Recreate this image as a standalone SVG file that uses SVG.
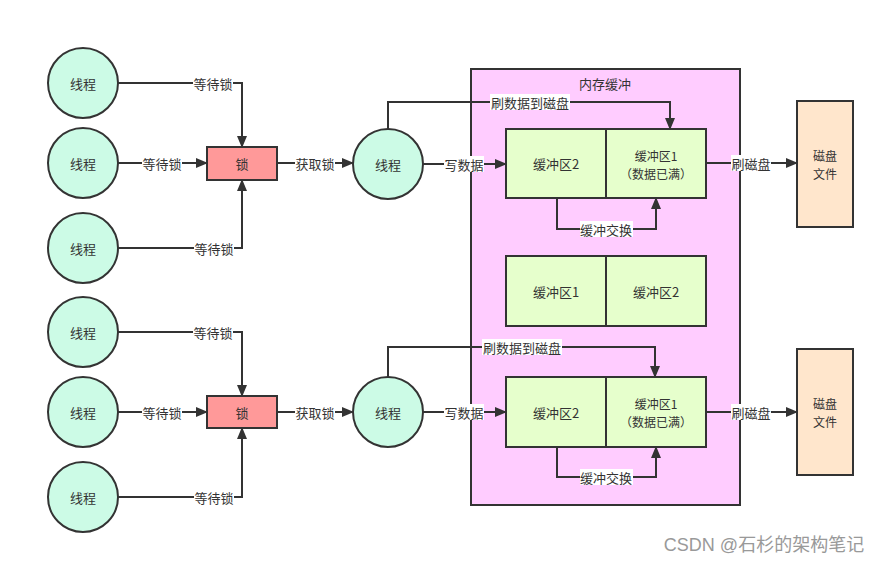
<svg xmlns="http://www.w3.org/2000/svg" width="885" height="563" viewBox="0 0 885 563">
<style>
text{font-family:"Noto Sans CJK SC","Liberation Sans",sans-serif;font-size:13px;fill:#333;text-anchor:middle;dominant-baseline:central}
.sm{font-size:12px}
.th{fill:#ccfbe6;stroke:#333;stroke-width:2}
.lk{fill:#ff9999;stroke:#333;stroke-width:2}
.bf{fill:#e6ffcc;stroke:#333;stroke-width:2}
.mem{fill:#ffccff;stroke:#333;stroke-width:2}
.dk{fill:#ffe6cc;stroke:#333;stroke-width:2}
.ln{fill:none;stroke:#333;stroke-width:2}
.lb{fill:#fff}
.wm{fill:#999;font-size:18px;font-family:"Liberation Sans","Noto Sans CJK SC",sans-serif}
</style>
<defs>
<marker id="ar" markerUnits="userSpaceOnUse" markerWidth="12" markerHeight="10" refX="11" refY="5" orient="auto">
<path d="M0,0 L12,5 L0,10 Z" fill="#333"/>
</marker>
</defs>
<rect width="885" height="563" fill="#fff"/>

<g id="memory"><rect class="mem" x="471" y="69" width="269" height="436"/><text x="605" y="83">内存缓冲</text></g>

<g id="t1"><circle class="th" cx="83" cy="83" r="35"/><text x="83" y="83">线程</text></g>
<g id="t2"><circle class="th" cx="83" cy="163" r="35"/><text x="83" y="163">线程</text></g>
<g id="t3"><circle class="th" cx="83" cy="248" r="35"/><text x="83" y="248">线程</text></g>
<g id="lock1"><rect class="lk" x="207" y="147" width="70" height="33"/><text x="242" y="163">锁</text></g>
<g id="w1"><circle class="th" cx="388" cy="164" r="35"/><text x="388" y="164">线程</text></g>
<g id="b1a"><rect class="bf" x="506" y="129" width="100" height="69"/><text x="556" y="163">缓冲区2</text></g>
<g id="b1b"><rect class="bf" x="606" y="129" width="100" height="69"/><text class="sm" x="656" y="155">缓冲区1</text><text class="sm" x="656" y="173">（数据已满）</text></g>
<g id="b2a"><rect class="bf" x="506" y="256" width="100" height="70"/><text x="556" y="291">缓冲区1</text></g>
<g id="b2b"><rect class="bf" x="606" y="256" width="100" height="70"/><text x="656" y="291">缓冲区2</text></g>
<g id="d1"><rect class="dk" x="797" y="101" width="56" height="126"/><text class="sm" x="825" y="155">磁盘</text><text class="sm" x="825" y="173">文件</text></g>

<g id="t4"><circle class="th" cx="83" cy="332" r="35"/><text x="83" y="332">线程</text></g>
<g id="t5"><circle class="th" cx="83" cy="412" r="35"/><text x="83" y="412">线程</text></g>
<g id="t6"><circle class="th" cx="83" cy="497" r="35"/><text x="83" y="497">线程</text></g>
<g id="lock2"><rect class="lk" x="207" y="396" width="70" height="32"/><text x="242" y="412">锁</text></g>
<g id="w2"><circle class="th" cx="388" cy="412" r="35"/><text x="388" y="412">线程</text></g>
<g id="b3a"><rect class="bf" x="506" y="377" width="100" height="70"/><text x="556" y="412">缓冲区2</text></g>
<g id="b3b"><rect class="bf" x="606" y="377" width="100" height="70"/><text class="sm" x="656" y="403">缓冲区1</text><text class="sm" x="656" y="421">（数据已满）</text></g>
<g id="d2"><rect class="dk" x="797" y="349" width="56" height="126"/><text class="sm" x="825" y="403">磁盘</text><text class="sm" x="825" y="421">文件</text></g>

<g id="connectors">
<path class="ln" d="M118,83 H242 V147" marker-end="url(#ar)"/>
<path class="ln" d="M118,163 H207" marker-end="url(#ar)"/>
<path class="ln" d="M118,248 H242 V180" marker-end="url(#ar)"/>
<path class="ln" d="M277,163 H353" marker-end="url(#ar)"/>
<path class="ln" d="M388,129 V102 H670 V129" marker-end="url(#ar)"/>
<path class="ln" d="M423,164 H506" marker-end="url(#ar)"/>
<path class="ln" d="M557,198 V229 H656 V198" marker-end="url(#ar)"/>
<path class="ln" d="M706,163 H797" marker-end="url(#ar)"/>

<path class="ln" d="M118,332 H242 V396" marker-end="url(#ar)"/>
<path class="ln" d="M118,412 H207" marker-end="url(#ar)"/>
<path class="ln" d="M118,497 H242 V428" marker-end="url(#ar)"/>
<path class="ln" d="M277,412 H353" marker-end="url(#ar)"/>
<path class="ln" d="M388,377 V347 H655 V377" marker-end="url(#ar)"/>
<path class="ln" d="M423,412 H506" marker-end="url(#ar)"/>
<path class="ln" d="M557,447 V477 H656 V447" marker-end="url(#ar)"/>
<path class="ln" d="M706,412 H797" marker-end="url(#ar)"/>

<rect class="lb" x="193" y="75" width="40" height="16"/><text x="213" y="83">等待锁</text>
<rect class="lb" x="142" y="155" width="40" height="16"/><text x="162" y="163">等待锁</text>
<rect class="lb" x="194" y="240" width="40" height="16"/><text x="214" y="248">等待锁</text>
<rect class="lb" x="295" y="155" width="40" height="16"/><text x="315" y="163">获取锁</text>
<rect class="lb" x="490" y="94" width="80" height="16"/><text x="530" y="102">刷数据到磁盘</text>
<rect class="lb" x="444" y="156" width="40" height="16"/><text x="464" y="164">写数据</text>
<rect class="lb" x="580" y="221" width="53" height="16"/><text x="606" y="229">缓冲交换</text>
<rect class="lb" x="731" y="155" width="40" height="16"/><text x="751" y="163">刷磁盘</text>

<rect class="lb" x="193" y="324" width="40" height="16"/><text x="213" y="332">等待锁</text>
<rect class="lb" x="142" y="404" width="40" height="16"/><text x="162" y="412">等待锁</text>
<rect class="lb" x="194" y="489" width="40" height="16"/><text x="214" y="497">等待锁</text>
<rect class="lb" x="295" y="404" width="40" height="16"/><text x="315" y="412">获取锁</text>
<rect class="lb" x="482" y="339" width="80" height="16"/><text x="522" y="347">刷数据到磁盘</text>
<rect class="lb" x="444" y="404" width="40" height="16"/><text x="464" y="412">写数据</text>
<rect class="lb" x="580" y="469" width="53" height="16"/><text x="606" y="477">缓冲交换</text>
<rect class="lb" x="731" y="404" width="40" height="16"/><text x="751" y="412">刷磁盘</text>
</g>

<text class="wm" x="764" y="545">CSDN @石杉的架构笔记</text>
</svg>
